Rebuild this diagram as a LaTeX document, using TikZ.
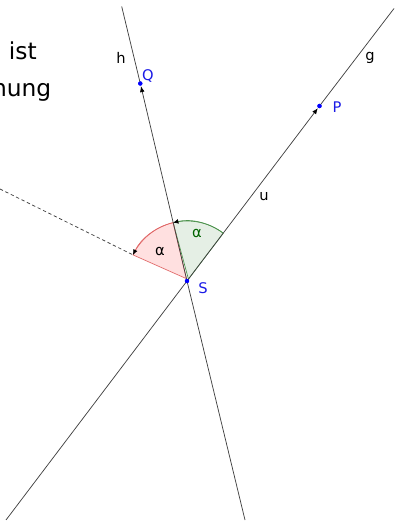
\documentclass[tikz,border=0pt]{standalone}
\usepackage{fontspec}
\setmainfont{DejaVu Sans}
\usetikzlibrary{arrows.meta,calc}
\definecolor{ptblue}{HTML}{0000FF}
\definecolor{lblblue}{HTML}{1A1AE6}
\definecolor{angG}{HTML}{006400}
\definecolor{angR}{HTML}{E06666}
\definecolor{ln}{HTML}{404040}

\begin{document}
\begin{tikzpicture}[x=0.75pt,y=0.75pt,>=Latex, gline/.style={ln,line width=0.55pt}, vec/.style={ln,line width=0.55pt,-{Latex[length=4.5pt,width=3.5pt,color=black]},shorten >=2pt}, pt/.style={circle,fill=ptblue,inner sep=0pt,minimum size=3.2pt}, lbl/.style={font=\fontsize{11}{12}\selectfont,inner sep=1pt}, big/.style={font=\fontsize{17.5}{20}\selectfont,inner sep=0pt}]
  \useasboundingbox (0,0) rectangle (394,522);
  % points and line ends
  \node[pt] (S) at (187,241) {};
  \node[pt] (P) at (319.5,416) {};
  \node[pt] (Q) at (140.3,438.5) {};
  \coordinate (g0) at (6,2);
  \coordinate (g1) at (394,513.5);
  \coordinate (h0) at (121.7,515.5);
  \coordinate (h1) at (245,2);
  \coordinate (d0) at (0,333);
  \coordinate (aG) at ($(S)+(52.8:60)$);
  \coordinate (aH) at ($(S)+(103.4:60)$);
  \coordinate (aD) at ($(S)+(154.2:60)$);
  % sectors
  \filldraw[draw=angG!70,fill=angG!10,line width=0.5pt] (S) -- (aG) arc[start angle=52.8,end angle=103.4,radius=60] -- cycle;
  \filldraw[draw=angR,fill=red!12,line width=0.5pt] (S) -- (aH) arc[start angle=103.4,end angle=154.2,radius=60] -- cycle;
  \draw[angG!70,line width=0.5pt,-{Latex[length=4pt,width=3.5pt,color=black]}] (aG) arc[start angle=52.8,end angle=103.4,radius=60];
  \draw[angR,line width=0.5pt,-{Latex[length=4pt,width=3.5pt,color=black]}] (aH) arc[start angle=103.4,end angle=154.2,radius=60];
  % lines and vectors
  \draw[gline] (g0) -- (S.center);
  \draw[gline] (P.center) -- (g1);
  \draw[gline] (h0) -- (Q.center);
  \draw[gline] (S.center) -- (h1);
  \draw[gline,dashed,dash pattern=on 2.5pt off 2pt] (d0) -- (aD);
  \draw[vec] (S.center) -- (P.center);
  \draw[vec] (S.center) -- (Q.center);
  \node[pt] at (S) {};
  \node[pt] at (P) {};
  \node[pt] at (Q) {};
  % labels
  \node[lbl,text=lblblue] (lS) at (203,234) {S};
  \node[lbl,text=lblblue] (lP) at (337,415) {P};
  \node[lbl,text=lblblue] (lQ) at (148,446) {Q};
  \node[lbl] (lh) at (121,464) {h};
  \node[lbl] (lg) at (370,464) {g};
  \node[lbl] (lu) at (264,326) {u};
  \node[lbl,text=angG] (aG1) at (197,289) {α};
  \node[lbl] (aR1) at (160,271) {α};
  \node[big,anchor=base east] (t1) at (37,462) {ist};
  \node[big,anchor=base east] (t2) at (51.5,425) {hung};
\end{tikzpicture}
\end{document}
